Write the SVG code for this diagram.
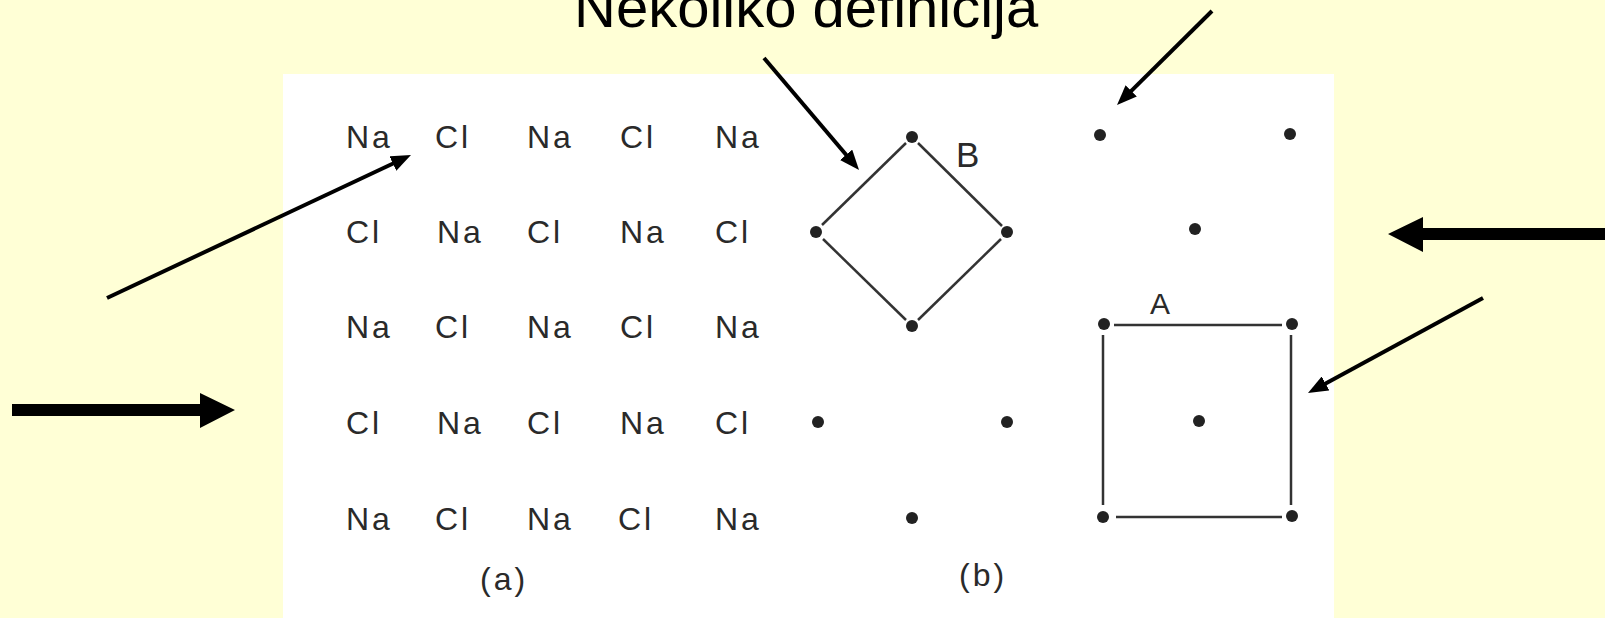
<svg xmlns="http://www.w3.org/2000/svg" width="1605" height="618" viewBox="0 0 1605 618">
<style>
.lat{font-family:"Liberation Sans",Arial,sans-serif;font-size:32px;fill:#2a2a2a;letter-spacing:3px}
.lbl{font-family:"Liberation Sans",Arial,sans-serif;fill:#2a2a2a}
.dot{fill:#222}
.edge{stroke:#333;stroke-width:2.5;fill:none}
.thin{stroke:#000;stroke-width:4;fill:none;marker-end:url(#ah)}
.thick{fill:#000}
</style>
<defs>
<marker id="ah" markerUnits="userSpaceOnUse" markerWidth="20" markerHeight="16" refX="2" refY="8" orient="auto" viewBox="0 0 20 16">
<path d="M0,0 L20,8 L0,16 z" fill="#000"/>
</marker>
</defs>
<rect x="0" y="0" width="1605" height="618" fill="#FFFFD6"/>
<rect x="283" y="74" width="1051" height="544" fill="#FFFFFF"/>
<text id="title" x="574" y="27" font-family="Liberation Sans, Arial, sans-serif" font-size="58" fill="#000">Nekoliko definicija</text>

<g id="lattice-a">
<text class="lat" x="346" y="148">Na</text><text class="lat" x="435" y="148">Cl</text><text class="lat" x="527" y="148">Na</text><text class="lat" x="620" y="148">Cl</text><text class="lat" x="715" y="148">Na</text>
<text class="lat" x="346" y="243">Cl</text><text class="lat" x="437" y="243">Na</text><text class="lat" x="527" y="243">Cl</text><text class="lat" x="620" y="243">Na</text><text class="lat" x="715" y="243">Cl</text>
<text class="lat" x="346" y="338">Na</text><text class="lat" x="435" y="338">Cl</text><text class="lat" x="527" y="338">Na</text><text class="lat" x="620" y="338">Cl</text><text class="lat" x="715" y="338">Na</text>
<text class="lat" x="346" y="434">Cl</text><text class="lat" x="437" y="434">Na</text><text class="lat" x="527" y="434">Cl</text><text class="lat" x="620" y="434">Na</text><text class="lat" x="715" y="434">Cl</text>
<text class="lat" x="346" y="530">Na</text><text class="lat" x="435" y="530">Cl</text><text class="lat" x="527" y="530">Na</text><text class="lat" x="618" y="530">Cl</text><text class="lat" x="715" y="530">Na</text>
<text class="lbl" x="480" y="590" font-size="32" letter-spacing="3">(a)</text>
</g>

<g id="cell-B">
<line class="edge" x1="906" y1="143" x2="822" y2="225"/>
<line class="edge" x1="918" y1="143" x2="1002" y2="226"/>
<line class="edge" x1="823" y1="239" x2="906" y2="320"/>
<line class="edge" x1="918" y1="320" x2="1001" y2="239"/>
<circle class="dot" cx="912" cy="137" r="6"/>
<circle class="dot" cx="816" cy="232" r="6"/>
<circle class="dot" cx="1007" cy="232" r="6"/>
<circle class="dot" cx="912" cy="326" r="6"/>
<text class="lbl" x="956" y="167" font-size="35">B</text>
</g>

<g id="cell-A">
<line class="edge" x1="1114" y1="325" x2="1282" y2="325"/>
<line class="edge" x1="1103" y1="335" x2="1103" y2="505"/>
<line class="edge" x1="1116" y1="517" x2="1282" y2="517"/>
<line class="edge" x1="1291" y1="335" x2="1291" y2="505"/>
<circle class="dot" cx="1104" cy="324" r="6"/>
<circle class="dot" cx="1292" cy="324" r="6"/>
<circle class="dot" cx="1103" cy="517" r="6"/>
<circle class="dot" cx="1292" cy="516" r="6"/>
<circle class="dot" cx="1199" cy="421" r="6"/>
<text class="lbl" x="1150" y="314" font-size="30">A</text>
</g>

<g id="lattice-b">
<circle class="dot" cx="1100" cy="135" r="6"/>
<circle class="dot" cx="1290" cy="134" r="6"/>
<circle class="dot" cx="1195" cy="229" r="6"/>
<circle class="dot" cx="818" cy="422" r="6"/>
<circle class="dot" cx="1007" cy="422" r="6"/>
<circle class="dot" cx="912" cy="518" r="6"/>
<text class="lbl" x="959" y="586" font-size="32" letter-spacing="3">(b)</text>
</g>

<g id="connectors">
<line class="thin" x1="764" y1="58" x2="847.4" y2="156.3"/>
<line class="thin" x1="1212" y1="11" x2="1129.8" y2="92.3"/>
<line class="thin" x1="107" y1="298" x2="394.7" y2="162.7"/>
<line class="thin" x1="1483" y1="298" x2="1323.8" y2="384.4"/>
<polygon class="thick" points="12,404 200,404 200,393 235,410 200,428 200,416 12,416"/>
<polygon class="thick" points="1605,228 1423,228 1423,217 1388,234 1423,252 1423,240 1605,240"/>
</g>
</svg>
